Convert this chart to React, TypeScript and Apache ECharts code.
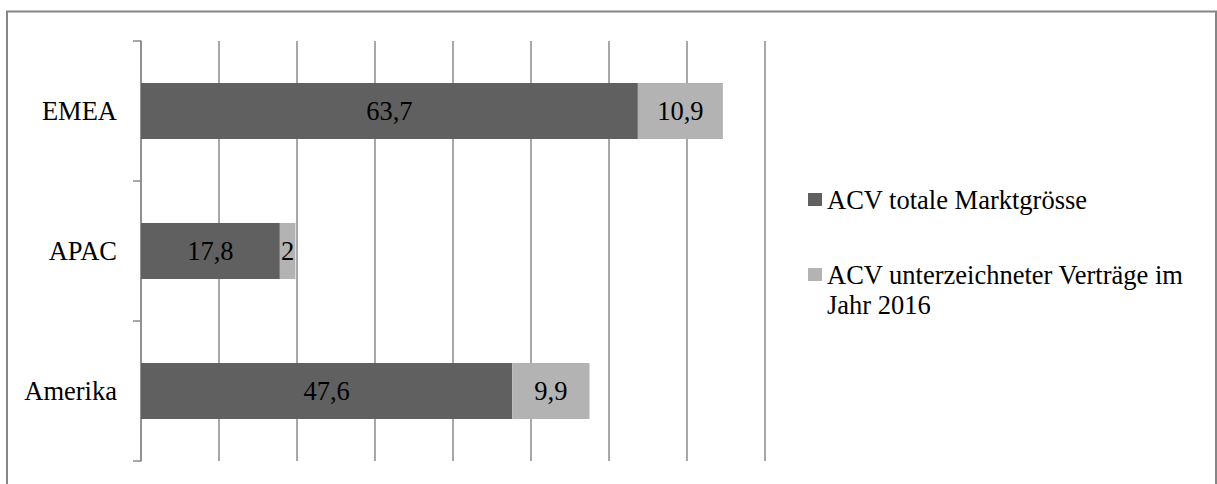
import React, { useEffect, useRef } from "react";
import * as echarts from "echarts";

const regions = ["Amerika", "APAC", "EMEA"];
const totalMarket = [47.6, 17.8, 63.7];
const signed2016 = [9.9, 2, 10.9];
const seriesNames = ["ACV totale Marktgrösse", "ACV unterzeichneter Verträge im Jahr 2016"];
const seriesColors = ["#606060", "#b3b3b3"];

const FONT = "Liberation Serif, Times New Roman, serif";
const FONT_SIZE = 26.5;
const GRID = "#8a8a8a";

const fmt = (v: number) => String(v).replace(".", ",");

export default function App() {
  const ref = useRef<HTMLDivElement>(null);

  useEffect(() => {
    if (!ref.current) return;
    const chart = echarts.init(ref.current, null, { renderer: "svg" });
    const label = {
      show: true,
      position: "inside",
      color: "#000",
      fontFamily: FONT,
      fontSize: FONT_SIZE,
      formatter: (p: any) => fmt(p.value),
    };
    const legendText = { color: "#000", fontFamily: FONT, fontSize: FONT_SIZE, lineHeight: 30 };
    chart.setOption({
      animation: false,
      backgroundColor: "#fff",
      textStyle: { fontFamily: FONT },
      graphic: [
        {
          type: "rect",
          shape: { x: 7, y: 11.5, width: 1209, height: 520 },
          style: { fill: "none", stroke: "#868686", lineWidth: 2 },
          silent: true,
        },
      ],
      grid: { left: 141, right: 452, top: 41, bottom: 23, containLabel: false },
      xAxis: {
        type: "value",
        min: 0,
        max: 80,
        interval: 10,
        axisLabel: { show: false },
        axisLine: { show: false },
        axisTick: { show: false },
        splitLine: { show: true, lineStyle: { color: GRID, width: 1.5 } },
      },
      yAxis: {
        type: "category",
        data: regions,
        axisLine: { show: true, lineStyle: { color: GRID, width: 1.5 } },
        axisTick: { show: true, length: 8, lineStyle: { color: GRID, width: 1.5 } },
        axisLabel: { color: "#000", fontFamily: FONT, fontSize: FONT_SIZE, margin: 24 },
      },
      legend: [
        {
          data: [seriesNames[0]],
          orient: "vertical",
          left: 808,
          top: 184.5,
          padding: 0,
          itemWidth: 14,
          itemHeight: 13,
          icon: "rect",
          textStyle: legendText,
        },
        {
          data: [seriesNames[1]],
          orient: "vertical",
          left: 808,
          top: 229.5,
          padding: 0,
          itemWidth: 14,
          itemHeight: 13,
          icon: "rect",
          // wrapped onto two lines; the leading break keeps the first line level with the swatch
          formatter: () => "\nACV unterzeichneter Verträge im\nJahr 2016",
          textStyle: legendText,
        },
      ],
      series: [
        {
          name: seriesNames[0],
          type: "bar",
          stack: "acv",
          data: totalMarket,
          barWidth: 56,
          itemStyle: { color: seriesColors[0] },
          label,
        },
        {
          name: seriesNames[1],
          type: "bar",
          stack: "acv",
          data: signed2016,
          barWidth: 56,
          itemStyle: { color: seriesColors[1] },
          label,
        },
      ],
    });
    return () => chart.dispose();
  }, []);

  return (
    <div
      ref={ref}
      style={{ position: "absolute", left: 0, top: 0, width: 1217, height: 484 }}
    />
  );
}
